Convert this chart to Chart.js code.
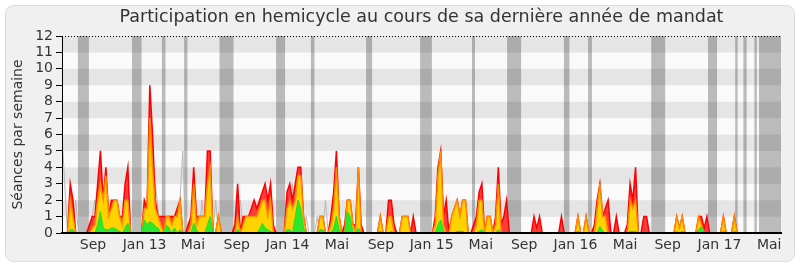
<!DOCTYPE html>
<html>
<head>
<meta charset="utf-8">
<script src="https://cdn.jsdelivr.net/npm/chart.js@4"></script>
<style>
  html, body { margin: 0; padding: 0; background: #fff; }
</style>
</head>
<body>
<canvas id="graf" width="800" height="267"></canvas>
<script>
// Séances par semaine (une valeur par semaine, juin 2012 -> juin 2017)
const presences = [
  0,0,0,3,2,0,0,0,0,0,
  0.5,1,1,3,5,2,4,1,2,2,
  2,1,1,3,4,0,0,0,0,0,
  2,1.5,9,6,2,1,1,1,1,1,
  1,1,1.5,2,0,0,0.5,1,4,1,
  1,1,1,5,5,0,0,1,0,0,
  0,0,0,0.5,3,0,1,1,1,1.5,
  2,1.5,2,2.5,3,2,3,0.5,0,0,
  0,0,2.5,3,2,3,4,4,1,0,
  0,0,0,0,1,1,0,0,1,2.5,
  5,1,0,0.5,2,2,0.5,0.5,4,0.5,
  0,0,0,0,0,0,1,0,0,2,
  2,0.5,0,0,1,1,1,0,1,0,
  0,0,0,0,0,0,1,4,5,1,
  2,0,1,1.5,2,1,2,2,0,0,
  0.5,1,2.5,3,0,1,1,0,1,4,
  0.5,1,2,0,0,0,0,0,0,0,
  0,0,1,0.3,1,0,0,0,0,0,
  0,0,1,0,0,0,0,0,1,0,
  0,1,0,0,0.5,2,3,1,1.5,2,
  0,0,1,0,0,0,0.5,3,2,4,
  0,0,1,1,0,0,0,0,0,0,
  0,0,0,0,1,0.3,1,0,0,0,
  0,0,1,1,0.3,1,0,0,0,0,
  0,1,0,0,0,1,0,0,0,0,
  0,0,0,0,0,0,0,0,0,0,
  0,0
];
const participations = [
  0,0,0,2,1,0,0,0,0,0,
  0,0.3,0.5,2,3,2,3.5,1,1.5,2,
  2,1,0.5,2,2,0,0,0,0,0,
  1.5,1.5,7,4,1.5,1,0.5,0,1,1,
  0.5,1,1,2,0,0,0,0.5,3,0.5,
  1,1,1,3,4,0,0,1,0,0,
  0,0,0,0,1,0,0.5,1,1,1,
  1,1,1.5,2,2,1,2,0,0,0,
  0,0,1.5,2,1.5,2,3.5,3.5,1,0,
  0,0,0,0,1,1,0,0,0.5,1.5,
  4,1,0,0,2,2,0.5,0,4,0,
  0,0,0,0,0,0,1,0,0,1,
  1,0,0,0,1,1,1,0,0,0,
  0,0,0,0,0,0,0.5,3.5,5,0.5,
  0,0,1,1.5,2,1,2,2,0,0,
  0,0.5,2,2,0,1,1,0,0.5,3,
  0,0,0,0,0,0,0,0,0,0,
  0,0,0,0,0,0,0,0,0,0,
  0,0,0,0,0,0,0,0,1,0,
  0,1,0,0,0,1.5,3,1,1,0,
  0,0,0,0,0,0,0,2,1.5,2,
  0,0,0,0,0,0,0,0,0,0,
  0,0,0,0,1,0.3,1,0,0,0,
  0,0,1,0.5,0,0,0,0,0,0,
  0,1,0,0,0,1,0,0,0,0,
  0,0,0,0,0,0,0,0,0,0,
  0,0
];
const interventions = [
  0,0,0,0.2,0.2,0,0,0,0,0,
  0,0,0,0.5,1.3,0.3,0.2,0.2,0.3,0.3,
  0.2,0.1,0,0.3,0.6,0,0,0,0,0,
  0.8,0.5,0.7,0.6,0.4,0.3,0,0,0.5,0.3,
  0,0.3,0,0.2,0,0,0,0,0.6,0.2,
  0,0,0,0.5,1,0,0,0,0,0,
  0,0,0,0,0.2,0,0,0,0,0,
  0,0,0.2,0.6,0.3,0.2,0.1,0,0,0,
  0,0,0.2,0.2,0,1,2,1.5,0.3,0,
  0,0,0,0,0.2,0.2,0,0,0,0.3,
  1,0.2,0,0,1.3,1,0,0,0.3,0,
  0,0,0,0,0,0,0.1,0,0,0,
  0.1,0,0,0,0,0,0,0,0,0,
  0,0,0,0,0,0,0,0.5,0.8,0.1,
  0,0,0,0,0.1,0.1,0.1,0,0,0,
  0,0,0.1,0.2,0,0,0,0,0,0.2,
  0,0,0,0,0,0,0,0,0,0,
  0,0,0,0,0,0,0,0,0,0,
  0,0,0,0,0,0,0,0,0.1,0,
  0,0,0,0,0,0,0.4,0.1,0,0,
  0,0,0,0,0,0,0,0.1,0.1,0.1,
  0,0,0,0,0,0,0,0,0,0,
  0,0,0,0,0.1,0,0.1,0,0,0,
  0,0,0.2,0.4,0,0,0,0,0,0,
  0,0.1,0,0,0,0.1,0,0,0,0,
  0,0,0,0,0,0,0,0,0,0,
  0,0
];
// ligne grise (séances de l'hémicycle), visible seulement au-dessus des présences
const seances = [
  6,3,0,0,0,2,0,0,0,0,
  0,1,2,0,0,0,0,0,0,0,
  0,0,0,0,0,0,0,0,0,0,
  0,0,0,0,3,1.5,0,0,0,0,
  0,0,0,2,5,0,0,0,0,0,
  0,2,0,0,0,0,2,0,0,0,
  0,0,0,0,0,2,0,0,0,0,
  0,0,0,0,0,0,0,0,0,0,
  0,0,0,0,3,0,0,0,0,1,
  0,0,0,1,0,0,2,0,0,0,
  0,0,0,0,0,0,0,0,0,0,
  0,0,0,0,0,0,0,0,0,0,
  0,0,0,0,0,0,0,0,0,0,
  0,0,0,0,0,0,0,0,0,0,
  0,0,0,0,0,0,0,0,0,0,
  0,0,0,0,0,0,0,0,0,0,
  0,0,0,0,0,0,0,0,0,0,
  0,0,0,0,0,0,0,0,0,0,
  0,0,0,0,0,0,0,0,0,0,
  0,0,0,0,0,0,0,0,0,0,
  0,0,0,0,0,0,0,0,0,0,
  0,0,0,0,0,0,0,0,0,0,
  0,0,0,0,0,0,0,0,0,0,
  0,0,0,0,0,0,0,0,0,0,
  0,0,0,0,0,0,0,0,0,0,
  0,0,0,0,0,0,0,0,0,0,
  0,0
];

// vacances parlementaires (en semaines)
const vacDebut = [5.8, 25.5, 36.4, 44.5, 57.4, 78.0, 90.7, 110.8, 130.5, 149.4, 162.2, 182.9, 191.7, 214.7, 235.4, 245.3, 248.3, 252.3, 254.0];
const vacFin   = [9.8, 29.0, 37.7, 45.7, 62.5, 81.3, 92.0, 113.0, 134.8, 150.5, 167.3, 184.9, 193.1, 219.8, 238.7, 246.2, 249.5, 253.2, 262];

// graduations des mois
const moisSemaines = [11.3, 30.1, 47.7, 63.7, 82.2, 100.2, 116.2, 134.7, 152.6, 168.4, 187.1, 205.2, 220.7, 239.6, 257.7];
const moisLabels = ['Sep', 'Jan 13', 'Mai', 'Sep', 'Jan 14', 'Mai', 'Sep', 'Jan 15', 'Mai', 'Sep', 'Jan 16', 'Mai', 'Sep', 'Jan 17', 'Mai'];

const nbSemaines = 262;
const semaines = presences.map((v, i) => i);

Chart.defaults.font.family = '"DejaVu Sans", Verdana, sans-serif';
Chart.defaults.color = '#333';

// Fond du cadre
const fondPlugin = {
    id: 'fond',
    beforeDraw(chart) {
        const ctx = chart.ctx;
        ctx.save();
        ctx.fillStyle = '#fff';
        ctx.fillRect(0, 0, chart.width, chart.height);
        ctx.beginPath();
        ctx.roundRect(5.5, 5.5, chart.width - 11, chart.height - 11, 8);
        ctx.fillStyle = '#f0f0f0';
        ctx.fill();
        ctx.strokeStyle = '#dcdcdc';
        ctx.lineWidth = 1;
        ctx.stroke();
        ctx.restore();
    }
};

// Bandes horizontales + vacances
const bandesPlugin = {
    id: 'bandes',
    beforeDatasetsDraw(chart) {
        const { ctx, chartArea: a, scales: { x, y } } = chart;
        ctx.save();
        for (let v = 0; v < 12; v++) {
            const haut = y.getPixelForValue(v + 1);
            const bas = y.getPixelForValue(v);
            ctx.fillStyle = v % 2 === 1 ? '#e5e5e5' : '#fafafa';
            ctx.fillRect(a.left, haut, a.right - a.left, bas - haut);
        }
        ctx.fillStyle = 'rgba(0,0,0,0.25)';
        vacDebut.forEach((d, i) => {
            const x1 = x.getPixelForValue(d);
            const x2 = x.getPixelForValue(vacFin[i]);
            ctx.fillRect(x1, a.top, x2 - x1, a.bottom - a.top);
        });
        ctx.restore();
    },
    afterDraw(chart) {
        const { ctx, chartArea: a } = chart;
        ctx.save();
        ctx.strokeStyle = '#000';
        ctx.lineWidth = 1;
        ctx.setLineDash([1, 2]);
        ctx.beginPath();
        ctx.moveTo(a.left, a.top + 0.5);
        ctx.lineTo(a.right, a.top + 0.5);
        ctx.stroke();
        ctx.restore();
    }
};

new Chart(document.getElementById('graf'), {
    type: 'line',
    data: {
        labels: semaines,
        datasets: [
            {
                label: 'Interventions',
                data: interventions,
                order: 0,
                borderColor: '#22dd22',
                backgroundColor: '#2ee82e',
                borderWidth: 1,
                fill: 'origin'
            },
            {
                label: 'Participations',
                data: participations,
                order: 1,
                borderColor: '#ff8c00',
                backgroundColor: '#ffd200',
                borderWidth: 1.5,
                fill: 'origin'
            },
            {
                label: 'Présences',
                data: presences,
                order: 2,
                borderColor: '#ff0000',
                backgroundColor: '#ff3c3c',
                borderWidth: 1.5,
                fill: 'origin'
            },
            {
                label: 'Séances',
                data: seances,
                order: 3,
                borderColor: '#b8b8b8',
                borderWidth: 1,
                fill: false
            }
        ]
    },
    options: {
        responsive: false,
        animation: false,
        layout: { padding: { left: 0, right: 19, top: 0, bottom: 0 } },
        elements: {
            point: { radius: 0 },
            line: { tension: 0 }
        },
        plugins: {
            legend: { display: false },
            tooltip: { enabled: false },
            title: {
                display: true,
                text: 'Participation en hemicycle au cours de sa dernière année de mandat',
                color: '#333',
                fullSize: false,
                font: { size: 17.5, weight: 'normal' },
                padding: { top: 7, bottom: 8 }
            }
        },
        scales: {
            x: {
                type: 'linear',
                min: 0,
                max: nbSemaines,
                grid: { display: false, drawTicks: false },
                border: { display: true, color: '#000', width: 2, z: 1 },
                afterBuildTicks: (s) => { s.ticks = moisSemaines.map(v => ({ value: v })); },
                afterFit: (s) => { s.height = 34; },
                ticks: {
                    autoSkip: false,
                    maxRotation: 0,
                    padding: 4,
                    color: '#333',
                    font: { size: 14 },
                    callback: (v, i) => moisLabels[i]
                }
            },
            y: {
                min: 0,
                max: 12,
                afterFit: (s) => { s.width = 62; },
                grid: { drawOnChartArea: false, drawTicks: true, tickLength: 6, tickColor: '#000', color: '#000' },
                border: { display: true, color: '#000', width: 1, z: 1 },
                ticks: { stepSize: 1, autoSkip: false, padding: 3, color: '#333', font: { size: 14 } },
                title: {
                    display: true,
                    text: 'Séances par semaine',
                    color: '#333',
                    font: { size: 14 },
                    padding: { top: 10, bottom: 0 }
                }
            }
        }
    },
    plugins: [fondPlugin, bandesPlugin]
});
</script>
</body>
</html>
